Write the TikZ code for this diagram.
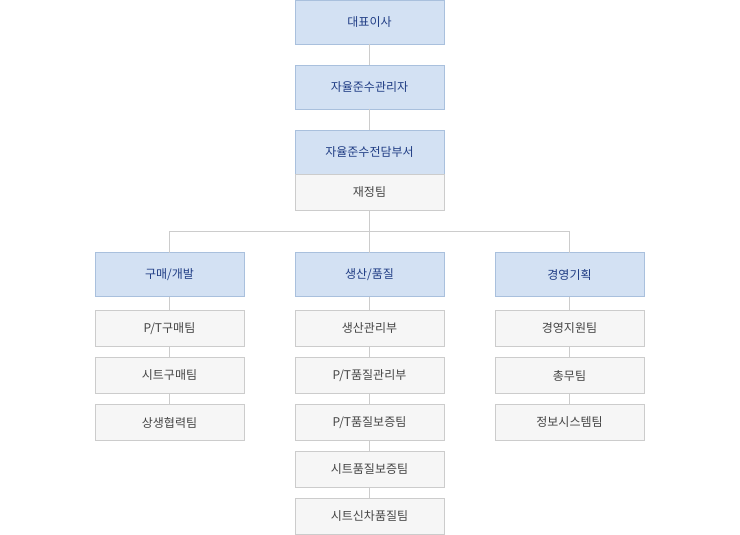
\documentclass[tikz,border=0pt]{standalone}
\usepackage{fontspec}
\newfontfamily\kr{Noto Sans CJK KR}
\usetikzlibrary{positioning}
\definecolor{headfill}{HTML}{D3E1F3}
\definecolor{headline}{HTML}{A9C0DD}
\definecolor{headtext}{HTML}{1F3C84}
\definecolor{teamfill}{HTML}{F6F6F6}
\definecolor{teamline}{HTML}{CCCCCC}
\definecolor{teamtext}{HTML}{444444}
\definecolor{linkgray}{HTML}{CCCCCC}
\tikzset{
  headbox/.style={draw=headline,fill=headfill,text=headtext,minimum width=149pt,
    minimum height=44pt,inner sep=0pt,outer sep=0pt,font=\kr\fontsize{12}{14}\selectfont},
  teambox/.style={draw=teamline,fill=teamfill,text=teamtext,minimum width=149pt,
    minimum height=36pt,inner sep=0pt,outer sep=0pt,font=\kr\fontsize{12}{14}\selectfont},
  link/.style={draw=linkgray,line width=0.8pt}
}
\begin{document}
\begin{tikzpicture}[x=1pt,y=-1pt]
  \useasboundingbox (0,0) rectangle (740,535);
  % top of the chart
  \node[headbox,anchor=north] (ceo) at (369.5,0.5) {대표이사};
  \node[headbox,below=21pt of ceo] (officer) {자율준수관리자};
  \node[headbox,below=21pt of officer] (dept) {자율준수전담부서};
  \node[teambox,below=0pt of dept] (finance) {재정팀};
  \coordinate (bus) at (369.5,231);
  % divisions
  \node[headbox,anchor=north] (buy) at (169.5,252.5) {구매/개발};
  \node[headbox,anchor=north] (prod) at (369.5,252.5) {생산/품질};
  \node[headbox,anchor=north] (plan) at (569.5,252.5) {경영기획};
  % teams
  \node[teambox,below=14pt of buy] (buy1) {P/T구매팀};
  \node[teambox,below=11pt of buy1] (buy2) {시트구매팀};
  \node[teambox,below=11pt of buy2] (buy3) {상생협력팀};
  \node[teambox,below=14pt of prod] (prod1) {생산관리부};
  \node[teambox,below=11pt of prod1] (prod2) {P/T품질관리부};
  \node[teambox,below=11pt of prod2] (prod3) {P/T품질보증팀};
  \node[teambox,below=11pt of prod3] (prod4) {시트품질보증팀};
  \node[teambox,below=11pt of prod4] (prod5) {시트신차품질팀};
  \node[teambox,below=14pt of plan] (plan1) {경영지원팀};
  \node[teambox,below=11pt of plan1] (plan2) {총무팀};
  \node[teambox,below=11pt of plan2] (plan3) {정보시스템팀};
  % connectors
  \draw[link] (ceo) -- (officer);
  \draw[link] (officer) -- (dept);
  \draw[link] (finance) -- (bus);
  \draw[link] (bus) -| (buy);
  \draw[link] (bus) -| (plan);
  \draw[link] (bus) -- (prod);
  \draw[link] (buy) -- (buy1) (buy1) -- (buy2) (buy2) -- (buy3);
  \draw[link] (prod) -- (prod1) (prod1) -- (prod2) (prod2) -- (prod3)
    (prod3) -- (prod4) (prod4) -- (prod5);
  \draw[link] (plan) -- (plan1) (plan1) -- (plan2) (plan2) -- (plan3);
\end{tikzpicture}
\end{document}
